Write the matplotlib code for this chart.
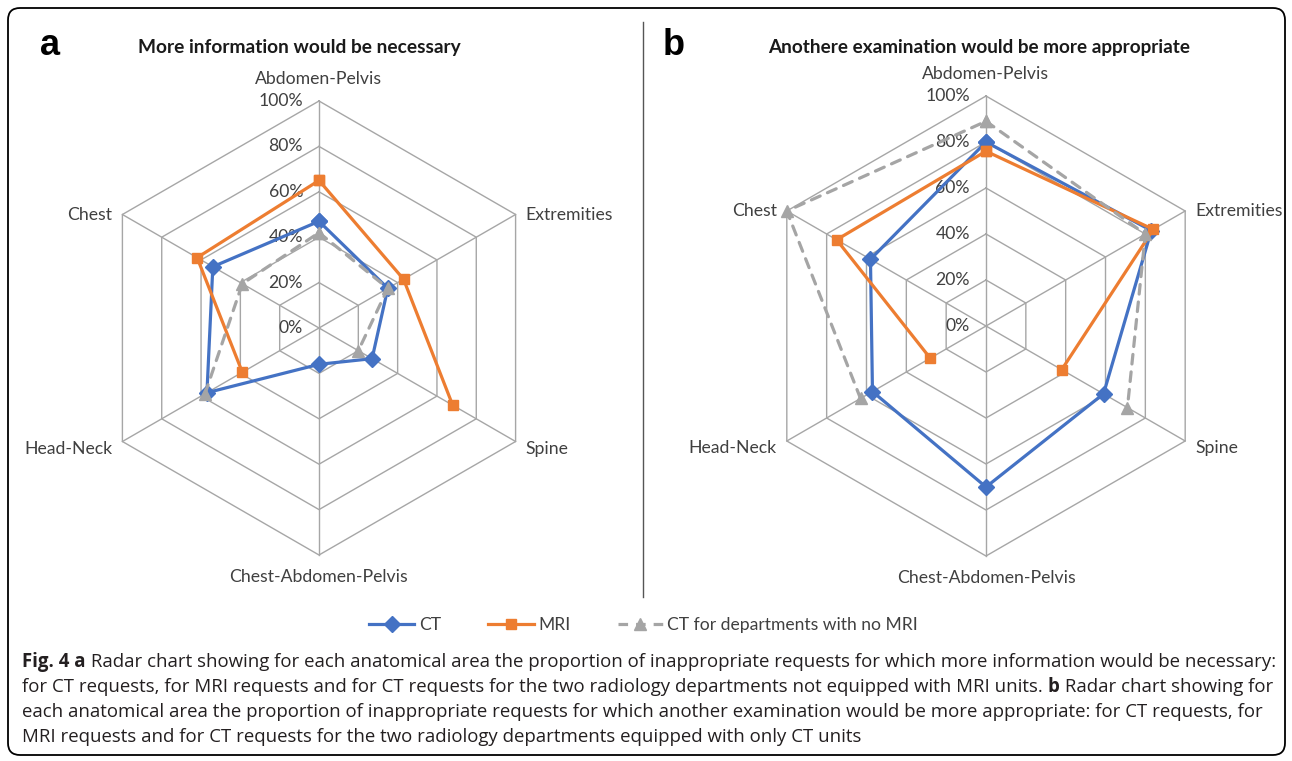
import numpy as np
import matplotlib.pyplot as plt
from matplotlib.patches import FancyBboxPatch
from matplotlib.lines import Line2D
from matplotlib.transforms import IdentityTransform

W, H = 1292, 761

categories = ["Abdomen-Pelvis", "Extremities", "Spine",
              "Chest-Abdomen-Pelvis", "Head-Neck", "Chest"]
levels = [0, 20, 40, 60, 80, 100]

# panel a: more information would be necessary (%)
ct_a = [47, 35, 27, 16, 57, 54]
mri_a = [65, 43, 68, np.nan, 39, 62]
noMRI_a = [42, 35, 20, np.nan, 58, 39]

# panel b: another examination would be more appropriate (%)
ct_b = [80, 83, 59, 70, 57, 58]
mri_b = [76, 84, 38, np.nan, 28, 75]
noMRI_b = [89, 80, 71, np.nan, 63, 100]

series_names = ["CT", "MRI", "CT for departments with no MRI"]

CT_COLOR = "#4472C4"
MRI_COLOR = "#ED7D31"
GRAY_COLOR = "#A5A5A5"
GRID = "#A6A6A6"
TXT = "#404040"

plt.rcParams['font.family'] = ['Lato', 'DejaVu Sans']

fig = plt.figure(figsize=(W / 100, H / 100), dpi=100)
renderer = fig.canvas.get_renderer()

styles = [
    dict(color=CT_COLOR, marker='D', ms=8, ls='-', zorder=3),
    dict(color=MRI_COLOR, marker='s', ms=7.5, ls='-', zorder=4),
    dict(color=GRAY_COLOR, marker='^', ms=9, ls=(0, (3, 2.5)), zorder=5),
]
LABEL_SIZE = 12.7


def draw_radar(cx, cy, R, data):
    half = 310
    ax = fig.add_axes([(cx - half) / W, 1 - (cy + half) / H, 2 * half / W, 2 * half / H])
    lim = half / R
    ax.set_xlim(-lim, lim)
    ax.set_ylim(-lim, lim)
    ax.axis('off')
    p = 1 / R  # data units per pixel

    ang = np.arange(len(categories)) * 2 * np.pi / len(categories)
    ang_c = np.append(ang, ang[0])
    for lv in levels[1:]:
        r = lv / 100
        ax.plot(r * np.sin(ang_c), r * np.cos(ang_c), color=GRID, lw=1, zorder=1)
    for a in ang:
        ax.plot([0, np.sin(a)], [0, np.cos(a)], color=GRID, lw=1, zorder=1)
    for lv in levels:
        ax.text(-16 * p, lv / 100, f"{lv}%", ha='right', va='center',
                fontsize=LABEL_SIZE, color=TXT, zorder=2)

    for a, name in zip(ang, categories):
        sx, sy = np.sin(a), np.cos(a)
        if abs(sx) < 0.01:
            ax.text(0, sy + np.sign(sy) * 22 * p, name, ha='center', va='center',
                    fontsize=LABEL_SIZE, color=TXT)
        else:
            ha = 'left' if sx > 0 else 'right'
            dy = 0 if sy > 0 else -7 * p
            ax.text(sx + np.sign(sx) * 10 * p, sy + dy, name, ha=ha, va='center',
                    fontsize=LABEL_SIZE, color=TXT)

    for vals, st in zip(data, styles):
        v = np.append(vals, vals[0]) / 100
        ax.plot(v * np.sin(ang_c), v * np.cos(ang_c), color=st['color'], lw=2.3,
                ls=st['ls'], marker=st['marker'], ms=st['ms'], zorder=st['zorder'],
                solid_capstyle='round', dash_capstyle='round')
    return ax


draw_radar(319, 328, 227, [ct_a, mri_a, noMRI_a])
draw_radar(986, 326, 230, [ct_b, mri_b, noMRI_b])

# panel letters and titles
fig.text(40 / W, 1 - 55 / H, "a", fontsize=26, fontweight='bold',
         family=['Liberation Sans', 'DejaVu Sans'], va='baseline')
fig.text(663 / W, 1 - 55 / H, "b", fontsize=26, fontweight='bold',
         family=['Liberation Sans', 'DejaVu Sans'], va='baseline')
fig.text(299 / W, 1 - 47 / H, "More information would be necessary", ha='center',
         va='center', fontsize=13.8, fontweight='bold', color='#1a1a1a')
fig.text(979 / W, 1 - 48 / H, "Anothere examination would be more appropriate",
         ha='center', va='center', fontsize=13.6, fontweight='bold', color='#1a1a1a')

# divider between panels
fig.add_artist(Line2D([643 / W, 643 / W], [1 - 22 / H, 1 - 597 / H], color='#555555', lw=1))

# legend
handles = [Line2D([], [], color=st['color'], lw=2.3, ls=st['ls'], marker=st['marker'],
                  ms=st['ms']) for st in styles]
fig.legend(handles, series_names, loc='center', bbox_to_anchor=(643.5 / W, 1 - 625 / H),
           ncol=3, frameon=False, fontsize=12.6, handlelength=2.6, handletextpad=0.25,
           columnspacing=2.7, labelcolor=TXT)

# outer frame
fig.add_artist(FancyBboxPatch((8, 6), 1277, 747, boxstyle="round,pad=0,rounding_size=12",
                              transform=IdentityTransform(), fill=False, ec='black', lw=1.3))

# caption
cap_family = ['Open Sans', 'DejaVu Sans']
caption = [
    [("Fig. 4 a", True), (" Radar chart showing for each anatomical area the proportion of "
                          "inappropriate requests for which more information would be necessary:", False)],
    [("for CT requests, for MRI requests and for CT requests for the two radiology departments "
      "not equipped with MRI units. ", False), ("b", True), (" Radar chart showing for", False)],
    [("each anatomical area the proportion of inappropriate requests for which another "
      "examination would be more appropriate: for CT requests, for", False)],
    [("MRI requests and for CT requests for the two radiology departments equipped with "
      "only CT units", False)],
]
baselines = [667, 692, 717, 742]


def text_width(s, size, bold):
    kw = dict(fontsize=size, family=cap_family, fontweight='bold' if bold else 'normal')
    t1 = fig.text(0, 0, "|" + s + "|", **kw)
    t2 = fig.text(0, 0, "||", **kw)
    w = t1.get_window_extent(renderer).width - t2.get_window_extent(renderer).width
    t1.remove()
    t2.remove()
    return w


cap_size = 13
w1 = sum(text_width(s, cap_size, b) for s, b in caption[0])
cap_size = cap_size * 1246 / w1

for parts, yb in zip(caption, baselines):
    x = 22
    for s, b in parts:
        fig.text(x / W, 1 - yb / H, s, fontsize=cap_size, family=cap_family,
                 fontweight='bold' if b else 'normal', va='baseline', color='#231f20')
        x += text_width(s, cap_size, b)

fig.savefig("out.png", dpi=100)
